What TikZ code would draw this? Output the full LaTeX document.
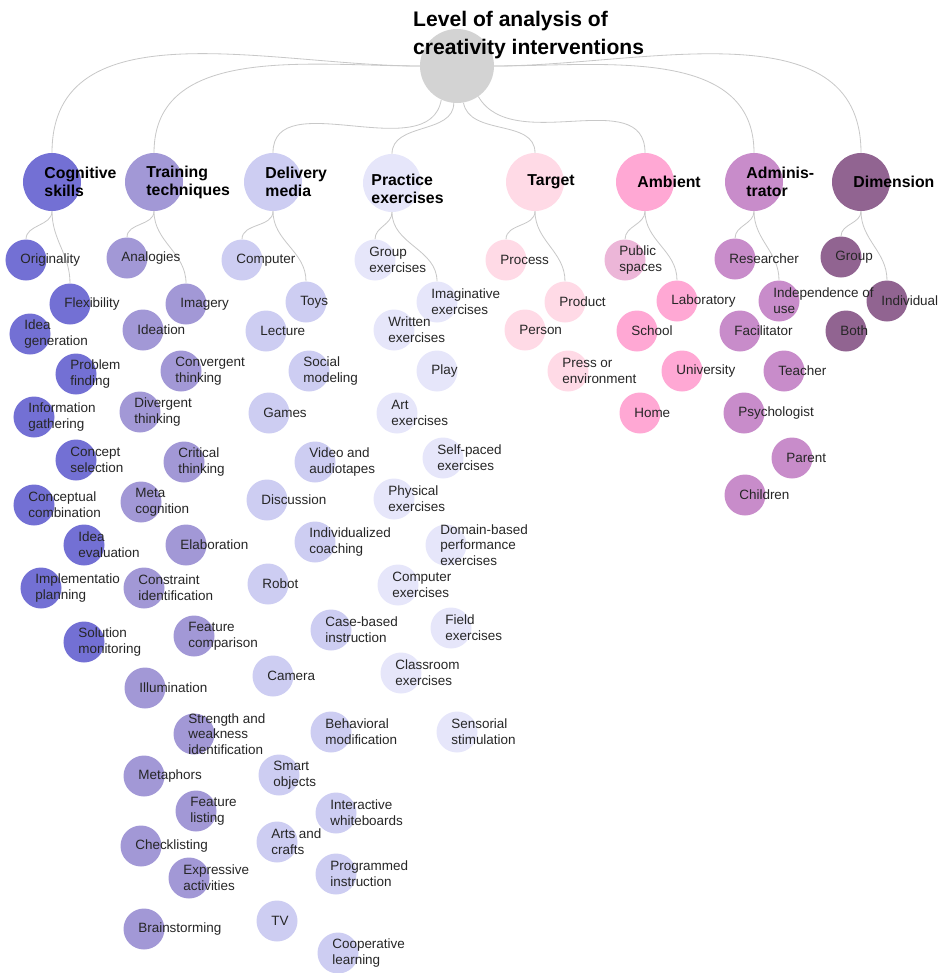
\documentclass[tikz,border=0pt]{standalone}
\usepackage{fontspec}
\setmainfont{Liberation Sans}
\usetikzlibrary{backgrounds}

\definecolor{rootc}{RGB}{211,211,211}
\definecolor{cogc}{RGB}{115,112,212}
\definecolor{trnc}{RGB}{162,152,214}
\definecolor{delc}{RGB}{205,205,242}
\definecolor{prac}{RGB}{230,230,250}
\definecolor{tarc}{RGB}{255,218,230}
\definecolor{ambc}{RGB}{255,168,212}
\definecolor{pubc}{RGB}{236,182,216}
\definecolor{admc}{RGB}{200,140,202}
\definecolor{dimc}{RGB}{145,100,145}
\definecolor{linkc}{RGB}{200,200,200}

\begin{document}
\begin{tikzpicture}[x=0.03cm, y=-0.03cm,
    big/.style={circle, minimum size=1.74cm, inner sep=0pt},
    cat/.style={big, label={[catlbl]0:#1}},
    leaf/.style={circle, minimum size=1.23cm, inner sep=0pt, label={[lbl]0:#1}},
    lbl/.style={xshift=-0.8cm, inner sep=0pt, align=left,
        font=\fontsize{11.5}{13.5}\selectfont, text=black!85},
    catlbl/.style={xshift=-1.11cm, inner sep=0pt, align=left,
        font=\fontsize{13.5}{15.5}\selectfont\bfseries},
    link/.style={every edge/.style={draw=linkc, line width=0.7pt}}]

    \useasboundingbox (0,0) rectangle (942,973);

    \node[circle, minimum size=2.22cm, fill=rootc] (root) at (457,66) {};
    \node[anchor=west, align=left, inner sep=0pt, font=\fontsize{18}{24}\selectfont\bfseries]
        (title) at (413,35) {Level of analysis of\\creativity interventions};

    \node[cat={Cognitive\\skills}, fill=cogc] (cog) at (52,182) {};
    \node[cat={Training\\techniques}, fill=trnc] (trn) at (154,182) {};
    \node[cat={Delivery\\media}, fill=delc] (del) at (273,182) {};
    \node[big, fill=prac, label={[catlbl, xshift=-0.39cm, yshift=-0.18cm]0:Practice\\exercises}]
        (prac) at (392,183) {};
    \node[cat=Target, fill=tarc] (tar) at (535,182) {};
    \node[cat=Ambient, fill=ambc] (amb) at (645,182) {};
    \node[cat={Adminis-\\trator}, fill=admc] (adm) at (754,182) {};
    \node[cat=Dimension, fill=dimc] (dim) at (861,182) {};

    \node[leaf=Originality, fill=cogc] (orig) at (26,260) {};
    \node[leaf=Flexibility, fill=cogc] (flex) at (70,304) {};
    \node[leaf={Idea\\generation}, fill=cogc] (ideag) at (30,334) {};
    \node[leaf={Problem\\finding}, fill=cogc] (probf) at (76,374) {};
    \node[leaf={Information\\gathering}, fill=cogc] (infog) at (34,417) {};
    \node[leaf={Concept\\selection}, fill=cogc] (concs) at (76,460) {};
    \node[leaf={Conceptual\\combination}, fill=cogc] (concc) at (34,505) {};
    \node[leaf={Idea\\evaluation}, fill=cogc] (ideae) at (84,545) {};
    \node[leaf={Implementatio\\planning}, fill=cogc] (implp) at (41,588) {};
    \node[leaf={Solution\\monitoring}, fill=cogc] (solm) at (84,642) {};

    \node[leaf=Analogies, fill=trnc] (anal) at (127,258) {};
    \node[leaf=Imagery, fill=trnc] (imag) at (186,304) {};
    \node[leaf=Ideation, fill=trnc] (idea) at (143,330) {};
    \node[leaf={Convergent\\thinking}, fill=trnc] (conv) at (181,371) {};
    \node[leaf={Divergent\\thinking}, fill=trnc] (divt) at (140,412) {};
    \node[leaf={Critical\\thinking}, fill=trnc] (crit) at (184,462) {};
    \node[leaf={Meta\\cognition}, fill=trnc] (meta) at (141,502) {};
    \node[leaf=Elaboration, fill=trnc] (elab) at (186,545) {};
    \node[leaf={Constraint\\identification}, fill=trnc] (cons) at (144,588) {};
    \node[leaf={Feature\\comparison}, fill=trnc] (featc) at (194,636) {};
    \node[leaf=Illumination, fill=trnc] (illu) at (145,688) {};
    \node[leaf={Strength and\\weakness\\identification}, fill=trnc] (strw) at (194,734) {};
    \node[leaf=Metaphors, fill=trnc] (metp) at (144,776) {};
    \node[leaf={Feature\\listing}, fill=trnc] (featl) at (196,811) {};
    \node[leaf=Checklisting, fill=trnc] (chkl) at (141,846) {};
    \node[leaf={Expressive\\activities}, fill=trnc] (expr) at (189,878) {};
    \node[leaf=Brainstorming, fill=trnc] (brain) at (144,929) {};

    \node[leaf=Computer, fill=delc] (comp) at (242,260) {};
    \node[leaf=Toys, fill=delc] (toys) at (306,302) {};
    \node[leaf=Lecture, fill=delc] (lect) at (266,331) {};
    \node[leaf={Social\\modeling}, fill=delc] (socm) at (309,371) {};
    \node[leaf=Games, fill=delc] (game) at (269,413) {};
    \node[leaf={Video and\\audiotapes}, fill=delc] (video) at (315,462) {};
    \node[leaf=Discussion, fill=delc] (disc) at (267,500) {};
    \node[leaf={Individualized\\coaching}, fill=delc] (indc) at (315,542) {};
    \node[leaf=Robot, fill=delc] (robot) at (268,584) {};
    \node[leaf={Case-based\\instruction}, fill=delc] (caseb) at (331,630) {};
    \node[leaf=Camera, fill=delc] (cam) at (273,676) {};
    \node[leaf={Behavioral\\modification}, fill=delc] (behm) at (331,732) {};
    \node[leaf={Smart\\objects}, fill=delc] (smart) at (279,775) {};
    \node[leaf={Interactive\\whiteboards}, fill=delc] (inter) at (336,813) {};
    \node[leaf={Arts and\\crafts}, fill=delc] (arts) at (277,842) {};
    \node[leaf={Programmed\\instruction}, fill=delc] (prog) at (336,874) {};
    \node[leaf=TV, fill=delc] (tv) at (277,921) {};
    \node[leaf={Cooperative\\learning}, fill=delc] (coop) at (338,953) {};

    \node[leaf={Group\\exercises}, fill=prac] (grpx) at (375,260) {};
    \node[leaf={Imaginative\\exercises}, fill=prac] (imgx) at (437,302) {};
    \node[leaf={Written\\exercises}, fill=prac] (wrtx) at (394,330) {};
    \node[leaf=Play, fill=prac] (play) at (437,371) {};
    \node[leaf={Art\\exercises}, fill=prac] (artx) at (397,413) {};
    \node[leaf={Self-paced\\exercises}, fill=prac] (selfx) at (443,458) {};
    \node[leaf={Physical\\exercises}, fill=prac] (physx) at (394,499) {};
    \node[leaf={Domain-based\\performance\\exercises}, fill=prac] (domx) at (446,545) {};
    \node[leaf={Computer\\exercises}, fill=prac] (compx) at (398,585) {};
    \node[leaf={Field\\exercises}, fill=prac] (fldx) at (451,628) {};
    \node[leaf={Classroom\\exercises}, fill=prac] (clsx) at (401,673) {};
    \node[leaf={Sensorial\\stimulation}, fill=prac] (sens) at (457,732) {};

    \node[leaf=Process, fill=tarc] (proc) at (506,260) {};
    \node[leaf=Product, fill=tarc] (prod) at (565,302) {};
    \node[leaf=Person, fill=tarc] (pers) at (525,330) {};
    \node[leaf={Press or\\environment}, fill=tarc] (press) at (568,371) {};

    \node[leaf={Public\\spaces}, fill=pubc] (pubs) at (625,260) {};
    \node[leaf=Laboratory, fill=ambc] (lab) at (677,301) {};
    \node[leaf=School, fill=ambc] (school) at (637,331) {};
    \node[leaf=University, fill=ambc] (univ) at (682,371) {};
    \node[leaf=Home, fill=ambc] (home) at (640,413) {};

    \node[leaf=Group, fill=dimc] (grp) at (841,257) {};
    \node[leaf=Individual, fill=dimc] (indiv) at (887,301) {};
    \node[leaf=Both, fill=dimc] (both) at (846,331) {};

    \node[leaf=Researcher, fill=admc] (res) at (735,259) {};
    \node[leaf={Independence of\\use}, fill=admc] (indep) at (779,301) {};
    \node[leaf=Facilitator, fill=admc] (facil) at (740,331) {};
    \node[leaf=Teacher, fill=admc] (teach) at (784,371) {};
    \node[leaf=Psychologist, fill=admc] (psych) at (744,413) {};
    \node[leaf=Parent, fill=admc] (parent) at (792,458) {};
    \node[leaf=Children, fill=admc] (child) at (745,495) {};

    \begin{scope}[on background layer, link]
    \path
    (root.west) edge[out=180, in=90] (cog.north)
    (root.west) edge[out=180, in=90] (trn.north)
    (root.-115) edge[out=-100, in=90] (del.north)
    (root.-95) edge[out=-90, in=90] (prac.north)
    (root.-80) edge[out=-80, in=90] (tar.north)
    (root.-55) edge[out=-60, in=90] (amb.north)
    (root.east) edge[out=0, in=90] (adm.north)
    (root.east) edge[out=0, in=90] (dim.north)
    (cog.south) edge[out=-90, in=90] (orig.north)
    (cog.south) edge[out=-90, in=90] (flex.north)
    (trn.south) edge[out=-90, in=90] (anal.north)
    (trn.south) edge[out=-90, in=90] (imag.north)
    (del.south) edge[out=-90, in=90] (comp.north)
    (del.south) edge[out=-90, in=90] (toys.north)
    (prac.south) edge[out=-90, in=90] (grpx.north)
    (prac.south) edge[out=-90, in=90] (imgx.north)
    (tar.south) edge[out=-90, in=90] (proc.north)
    (tar.south) edge[out=-90, in=90] (prod.north)
    (amb.south) edge[out=-90, in=90] (pubs.north)
    (amb.south) edge[out=-90, in=90] (lab.north)
    (adm.south) edge[out=-90, in=90] (res.north)
    (adm.south) edge[out=-90, in=90] (indep.north)
    (dim.south) edge[out=-90, in=90] (grp.north)
    (dim.south) edge[out=-90, in=90] (indiv.north)
    ;
    \end{scope}
\end{tikzpicture}
\end{document}
